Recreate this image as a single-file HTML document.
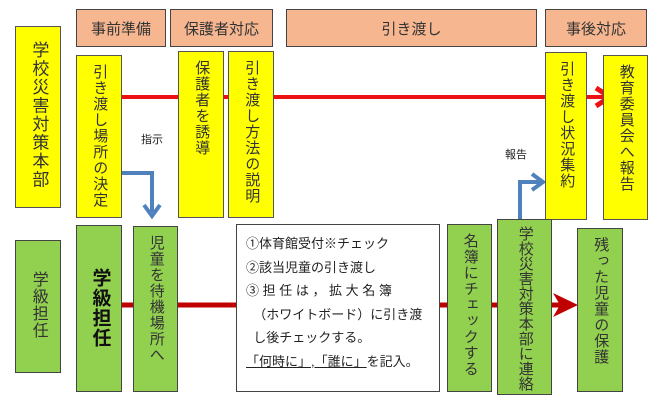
<!DOCTYPE html>
<html><head><meta charset="utf-8"><style>
body{margin:0;width:663px;height:404px;background:#fff;position:relative;overflow:hidden;font-family:"Liberation Sans","Noto Sans CJK JP",sans-serif;color:#222}
.a{position:absolute;box-sizing:border-box}
.h{background:#f5b690;border:1px solid #444;display:flex;align-items:center;justify-content:center;font-size:15px;color:#333}
.y{background:#ffff00;border:1px solid #555}
.g{background:#92d050;border:1px solid #444}
.v{text-align:center;padding-top:8px;color:#333}
.v span{display:inline-block;writing-mode:vertical-rl;font-size:15px;line-height:1.1;letter-spacing:1px;white-space:nowrap}
.w{background:#fff;border:1px solid #444;font-size:13px;padding:7px 0 0 9px;line-height:23.5px;color:#222}
</style></head><body>
<div class="a h" style="left:76px;top:9px;width:90px;height:38px">事前準備</div>
<div class="a h" style="left:170px;top:9px;width:103px;height:38px">保護者対応</div>
<div class="a h" style="left:286px;top:9px;width:251px;height:38px">引き渡し</div>
<div class="a h" style="left:545px;top:9px;width:102px;height:38px">事後対応</div>

<svg class="a" style="left:0;top:0" width="663" height="404">
<line x1="120" y1="97" x2="604" y2="97" stroke="#ee1111" stroke-width="4"/>
<polyline points="596,88 610,97 596,106" fill="none" stroke="#ee1111" stroke-width="5"/>
<line x1="120" y1="305" x2="560" y2="305" stroke="#c00000" stroke-width="5"/>
<polygon points="553,293 578,305 553,317 560,305" fill="#c00000"/>
<polyline points="122,173 152,173 152,212" fill="none" stroke="#4f81bd" stroke-width="4"/>
<polyline points="144,205 152,216 160,205" fill="none" stroke="#4f81bd" stroke-width="4"/>
<polyline points="520,222 520,182 540,182" fill="none" stroke="#4f81bd" stroke-width="4"/>
<polyline points="532,174 543,182 532,190" fill="none" stroke="#4f81bd" stroke-width="4"/>
</svg>

<div class="a y v" style="left:15px;top:26px;width:46px;height:182px;padding-top:14px"><span style="font-size:17px;letter-spacing:1.5px">学校災害対策本部</span></div>
<div class="a y v" style="left:76px;top:55px;width:46px;height:163px"><span>引き渡し場所の決定</span></div>
<div class="a y v" style="left:178px;top:51px;width:46px;height:167px"><span>保護者を誘導</span></div>
<div class="a y v" style="left:228px;top:51px;width:46px;height:167px"><span>引き渡し方法の説明</span></div>
<div class="a y v" style="left:545px;top:52px;width:42px;height:168px"><span>引き渡し状況集約</span></div>
<div class="a y v" style="left:603px;top:55px;width:45px;height:165px"><span>教育委員会へ報告</span></div>

<div class="a" style="left:141px;top:131px;font-size:11px">指示</div>
<div class="a" style="left:505px;top:146px;font-size:11px">報告</div>

<div class="a g v" style="left:15px;top:240px;width:46px;height:133px;padding-top:30px"><span style="font-size:16px">学級担任</span></div>
<div class="a g v" style="left:76px;top:225px;width:46px;height:167px;padding-top:42px"><span style="font-size:19px;font-weight:bold;color:#111;letter-spacing:1px">学級担任</span></div>
<div class="a g v" style="left:133px;top:226px;width:45px;height:166px"><span>児童を待機場所へ</span></div>
<div class="a w" style="left:236px;top:224px;width:204px;height:168px">
①体育館受付※チェック<br>②該当児童の引き渡し<br>③ 担 任 は ， 拡 大 名 簿<br>&nbsp;&nbsp;（ホワイトボード）に引き渡<br>&nbsp;&nbsp;し後チェックする。<br><span style="text-decoration:underline">「何時に」,「誰に」</span>を記入。
</div>
<div class="a g v" style="left:447px;top:224px;width:45px;height:168px"><span style="letter-spacing:1px">名簿にチェックする</span></div>
<div class="a g v" style="left:497px;top:219px;width:55px;height:176px;padding-top:6px"><span style="font-size:15px;letter-spacing:0px">学校災害対策本部に連絡</span></div>
<div class="a g v" style="left:577px;top:228px;width:46px;height:164px"><span>残った児童の保護</span></div>
</body></html>
